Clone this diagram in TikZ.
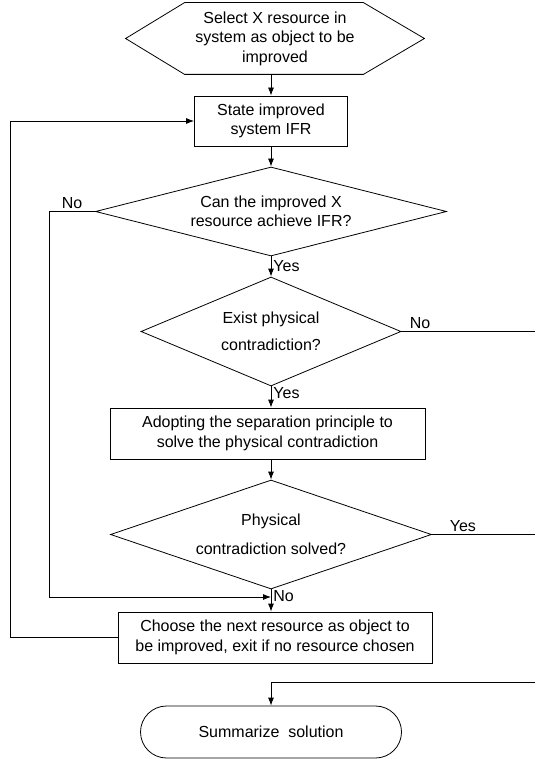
\documentclass[tikz,border=0pt]{standalone}
\usepackage{fontspec}
\setmainfont{Liberation Sans}
\usepackage{tikz}
\usetikzlibrary{shapes.geometric,shapes.misc}
\usetikzlibrary{positioning}
\usetikzlibrary{arrows.meta,calc}

\begin{document}
\begin{tikzpicture}[x=1pt,y=-1pt,>={Latex[length=8pt,width=6pt]},
  font=\fontsize{16}{19.5}\selectfont,line width=0.8pt,
  box/.style={draw,rectangle,align=center,inner sep=0pt},
  decision/.style={draw,diamond,align=center,inner sep=0pt},
  lbl/.style={inner sep=2pt}]
\useasboundingbox (0,0) rectangle (535,759);
% blocks
\node[align=center,minimum width=298pt,minimum height=71pt,inner sep=0pt] (start) at (275,38.5) {Select X resource in\\system as object to be\\improved};
\draw ($(start.north west)+(59,0)$) -- ($(start.north east)+(-61,0)$) -- (start.east) -- ($(start.south east)+(-61,0)$) -- ($(start.south west)+(59,0)$) -- (start.west) -- cycle;
\node[box,minimum width=153pt,minimum height=50pt] (ifr) at (271,121) {State improved\\system IFR};
\node[decision,aspect=3.94,minimum width=351pt,minimum height=89pt] (canx) at (271,211.5) {Can the improved X\\resource achieve IFR?};
\node[decision,aspect=2.39,minimum width=260pt,minimum height=109pt] (exist) at (271,331.5) {Exist physical\\[8pt]contradiction?};
\node[box,minimum width=315pt,minimum height=51pt] (sep) at (267.5,433.5) {Adopting the separation principle to\\solve the physical contradiction};
\node[decision,aspect=2.94,minimum width=321pt,minimum height=109pt] (solved) at (271,534.5) {Physical\\[9pt]contradiction solved?};
\node[box,minimum width=314pt,minimum height=51pt] (next) at (275,637.5) {Choose the next resource as object to\\be improved, exit if no resource chosen};
\node[draw,rounded rectangle,minimum width=261pt,minimum height=52pt,inner sep=0pt] (summ) at (271,732) {Summarize~~solution};

\coordinate (lft) at (10,121);
\coordinate (noL) at (49,211.5);
\coordinate (join) at (271,597);
\coordinate (outA) at (535,331.5);
\coordinate (outB) at (535,534.5);
\coordinate (inB) at (535,682);

% flow
\draw[->] (start.south -| ifr.north) -- (ifr.north);
\draw[->] (ifr.south) -- (canx.north);
\draw[->] (canx.south) -- node[lbl,right]{Yes} (exist.north);
\draw[->] (exist.south) -- node[lbl,right,pos=0.3]{Yes} (exist.south |- sep.north);
\draw[->] (sep.south -| solved.north) -- (solved.north);
\draw[->] (solved.south) -- node[lbl,right,pos=0.3]{No} (solved.south |- next.north);
\draw (exist.east) -- node[lbl,above,pos=0.14]{No} (outA);
\draw (solved.east) -- node[lbl,above,pos=0.3]{Yes} (outB);
\draw[->] (canx.west) -- node[lbl,above]{No} (noL) |- (join);
\draw[->] (next.west) -| (lft) -- (ifr.west);
\draw[->] (inB) -| (summ.north);
\end{tikzpicture}
\end{document}
